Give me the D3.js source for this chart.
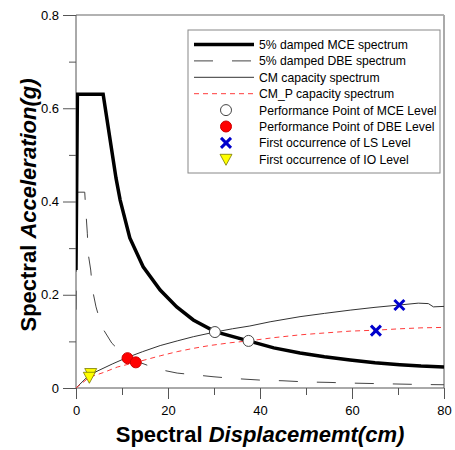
<!DOCTYPE html>
<html>
<head>
<meta charset="utf-8">
<script src="https://cdn.jsdelivr.net/npm/d3@7"></script>
<style>
  body { margin: 0; background: #fff; }
  svg { font-family: "Liberation Sans", Arial, sans-serif; }
</style>
</head>
<body>
<div id="plot"></div>
<script>
const width = 455;
const height = 450;
const margin = {top: 15, right: 11, bottom: 62, left: 76};
const w = width - margin.left - margin.right;
const h = height - margin.top - margin.bottom;

// ----- DATA ------------------------------------------------//
const xTicks = [0, 20, 40, 60, 80];
const yTicks = [0, 0.2, 0.4, 0.6, 0.8];

// 5% damped MCE spectrum
const mceSd = [0, 0.3, 5.9, 7.75, 8.7, 9.6, 11.7, 14.6, 18.3, 21.9, 25.5, 30.2, 37.5, 43, 48.7, 54, 59.6, 65, 70.4, 75, 80];
const mceSa = [0.253, 0.63, 0.63, 0.511, 0.45, 0.403, 0.322, 0.26, 0.21, 0.174, 0.146, 0.121, 0.101, 0.086, 0.075, 0.067, 0.06, 0.054, 0.05, 0.047, 0.045];

// 5% damped DBE spectrum
const dbeSd = [0, 0.2, 1.9, 2.1, 2.46, 2.7, 3.2, 3.6, 4.35, 5.6, 7.8, 10, 13, 16, 19, 22, 26, 30, 35, 40, 45, 50, 55, 60, 65, 70, 75, 80];
const dbeSa = [0.168, 0.42, 0.42, 0.386, 0.332, 0.285, 0.253, 0.21, 0.174, 0.131, 0.096, 0.075, 0.058, 0.047, 0.038, 0.032, 0.028, 0.024, 0.02, 0.017, 0.0155, 0.013, 0.012, 0.0105, 0.0095, 0.0085, 0.0075, 0.007];

// CM capacity spectrum
const cmSd = [0, 2.9, 5, 8, 11, 14.5, 18.3, 22, 25.5, 30.2, 34, 37.8, 42.2, 48.7, 54, 59.6, 65, 70.3, 74.4, 76.6, 77.7, 80, 84];
const cmSa = [0, 0.028, 0.038, 0.052, 0.065, 0.078, 0.091, 0.101, 0.110, 0.12, 0.127, 0.133, 0.142, 0.153, 0.160, 0.167, 0.173, 0.178, 0.182, 0.181, 0.174, 0.175, 0.176];

// CM_P capacity spectrum
const cmpSd = [0, 2.9, 5.9, 9, 13, 18.3, 22, 25.5, 29, 33.5, 37.5, 43, 48.7, 54, 59.6, 65.2, 70.4, 75, 80];
const cmpSa = [0, 0.023, 0.033, 0.045, 0.055, 0.069, 0.078, 0.085, 0.091, 0.097, 0.101, 0.108, 0.114, 0.118, 0.122, 0.124, 0.127, 0.129, 0.130];

// markers
const mcePP = [[30.2, 0.12], [37.5, 0.101]];
const dbePP = [[11.2, 0.064], [13.0, 0.055]];
const lsPts = [[70.3, 0.178], [65.2, 0.123]];
const ioPts = [[3.2, 0.031], [2.9, 0.023]];

const legendLabels = [
  "5% damped MCE spectrum",
  "5% damped DBE spectrum",
  "CM capacity spectrum",
  "CM_P capacity spectrum",
  "Performance Point of MCE Level",
  "Performance Point of DBE Level",
  "First occurrence of LS Level",
  "First occurrence of IO Level"
];

const zip = (a, b) => a.map((v, i) => [v, b[i]]);

// ----- SVG ------------------------//
const svg = d3.select("#plot").append("svg")
    .attr("width", width)
    .attr("height", height);

const g = svg.append("g")
    .attr("transform", "translate(" + margin.left + "," + margin.top + ")");

const x = d3.scaleLinear().domain([0, 80]).range([0, w]);
const y = d3.scaleLinear().domain([0, 0.8]).range([h, 0]);

svg.append("defs").append("clipPath").attr("id", "clip")
  .append("rect").attr("x", 0).attr("y", 0).attr("width", w).attr("height", h);

// frame top / right
g.append("line").attr("x1", 0).attr("x2", w).attr("y1", 0).attr("y2", 0)
  .attr("stroke", "#999").attr("stroke-width", 1.5);
g.append("line").attr("x1", w).attr("x2", w).attr("y1", 0).attr("y2", h)
  .attr("stroke", "#aaa").attr("stroke-width", 2);

// axes
const xAxis = d3.axisBottom(x).tickValues(xTicks).tickSize(11).tickPadding(7).tickFormat(d3.format("d"));
const xMinor = d3.axisBottom(x).tickValues([10, 30, 50, 70]).tickSize(7).tickFormat("");
const yAxis = d3.axisLeft(y).tickValues(yTicks).tickSize(13).tickPadding(4)
  .tickFormat(d => d === 0 ? "0" : d3.format(".1f")(d));
const yMinor = d3.axisLeft(y).tickValues([0.1, 0.3, 0.5, 0.7]).tickSize(7).tickFormat("");

function styleAxis(sel) {
  sel.select(".domain").remove();
  sel.selectAll("line").attr("stroke", "#555");
  sel.selectAll("text").attr("font-size", 13).attr("fill", "#000")
     .attr("font-family", "'Liberation Sans', Arial, sans-serif");
}

g.append("g").attr("transform", "translate(0," + h + ")").call(xMinor).call(styleAxis);
g.append("g").attr("transform", "translate(0," + h + ")").call(xAxis).call(styleAxis);
g.append("g").call(yMinor).call(styleAxis);
g.append("g").call(yAxis).call(styleAxis);

g.append("line").attr("x1", 0).attr("x2", w).attr("y1", h).attr("y2", h).attr("stroke", "#555");
g.append("line").attr("x1", 0).attr("x2", 0).attr("y1", 0).attr("y2", h).attr("stroke", "#555");

// ----- LINES ------------------------//
const line = d3.line().x(d => x(d[0])).y(d => y(d[1]));
const plot = g.append("g").attr("clip-path", "url(#clip)");

const series = [
  {data: zip(dbeSd, dbeSa), stroke: "#444", width: 1, dash: "19,19"},
  {data: zip(cmSd, cmSa), stroke: "#333", width: 1, dash: null},
  {data: zip(cmpSd, cmpSa), stroke: "#ff3b3b", width: 1, dash: "5,4"},
  {data: zip(mceSd, mceSa), stroke: "#000", width: 3.5, dash: null}
];

plot.selectAll("path.serie")
  .data(series)
  .enter()
  .append("path")
  .attr("class", "serie")
  .attr("fill", "none")
  .attr("stroke", d => d.stroke)
  .attr("stroke-width", d => d.width)
  .attr("stroke-dasharray", d => d.dash)
  .attr("d", d => line(d.data));

// ----- MARKERS ------------------------//
function circle(sel, fill) {
  sel.append("circle").attr("r", 5.5).attr("fill", fill).attr("stroke", fill === "#fff" ? "#444" : "#c00").attr("stroke-width", 1);
}
function cross(sel) {
  sel.append("path").attr("d", "M-5,-5L5,5M-5,5L5,-5")
    .attr("stroke", "#0000cc").attr("stroke-width", 3).attr("fill", "none");
}
function tri(sel) {
  sel.append("path").attr("d", "M-6,-5L6,-5L0,6Z")
    .attr("fill", "#ffff00").attr("stroke", "#777700").attr("stroke-width", 0.8);
}

const markerSets = [
  {pts: mcePP, draw: s => circle(s, "#fff")},
  {pts: dbePP, draw: s => circle(s, "#ff0000")},
  {pts: lsPts, draw: cross},
  {pts: ioPts, draw: tri}
];

markerSets.forEach(m => {
  m.pts.forEach(p => {
    const mk = g.append("g").attr("transform", "translate(" + x(p[0]) + "," + y(p[1]) + ")");
    m.draw(mk);
  });
});

// ----- LEGEND ------------------------//
const legend = svg.append("g").attr("transform", "translate(188,30)");
legend.append("rect").attr("x", 0).attr("y", 0).attr("width", 252).attr("height", 143)
  .attr("fill", "#fff").attr("stroke", "#888").attr("stroke-width", 1);

const rowY = i => 14.5 + i * 16.4;
legendLabels.forEach((lab, i) => {
  const row = legend.append("g").attr("transform", "translate(0," + rowY(i) + ")");
  if (i < 4) {
    const s = series[[3, 0, 1, 2][i]];
    row.append("line").attr("x1", 6).attr("x2", 66).attr("y1", 0).attr("y2", 0)
      .attr("stroke", s.stroke).attr("stroke-width", s.width)
      .attr("stroke-dasharray", s.dash);
  } else {
    const mk = row.append("g").attr("transform", "translate(38,0)");
    markerSets[i - 4].draw(mk);
  }
  row.append("text").attr("x", 71).attr("y", 4.5)
    .attr("font-size", 12.2).attr("fill", "#000").text(lab);
});

// ----- TITLES ------------------------//
const xt = svg.append("text")
  .attr("x", margin.left + w / 2).attr("y", 442)
  .attr("text-anchor", "middle")
  .attr("font-size", 22).attr("font-weight", "bold");
xt.append("tspan").text("Spectral ");
xt.append("tspan").attr("font-style", "italic").text("Displacememt(cm)");

const yt = svg.append("text")
  .attr("transform", "translate(36," + 205 + ") rotate(-90)")
  .attr("text-anchor", "middle")
  .attr("font-size", 22).attr("font-weight", "bold");
yt.append("tspan").text("Spectral ");
yt.append("tspan").attr("font-style", "italic").text("Acceleration(g)");
</script>
</body>
</html>
